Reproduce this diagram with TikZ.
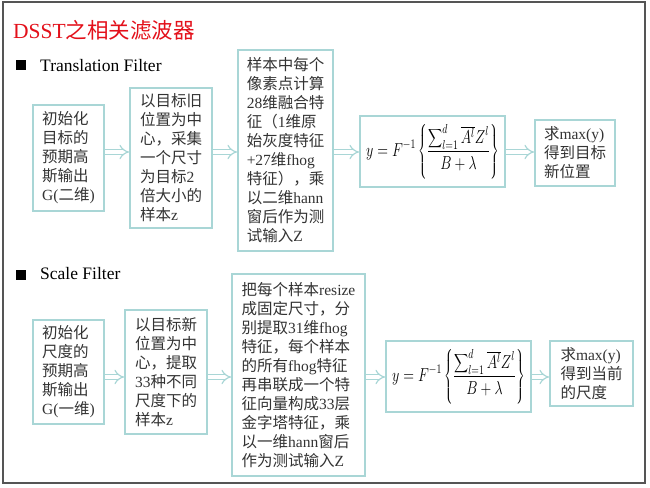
\documentclass[tikz,border=0pt]{standalone}
\usepackage{graphicx}
\usepackage{fontspec}
\setmainfont{Liberation Serif}
\newfontfamily\cjk{Noto Sans CJK SC}
\usetikzlibrary{arrows.meta}
% Chinese characters go to the CJK family, the rest stays in the serif
\XeTeXinterchartokenstate=1
\newXeTeXintercharclass\cjkclass
\newcount\cjkchar
\newcommand\setcjkrange[2]{%
  \cjkchar=#1\relax
  \loop
    \XeTeXcharclass\cjkchar=\cjkclass
    \ifnum\cjkchar<#2\relax\advance\cjkchar by 1\relax
  \repeat}
\setcjkrange{"3000}{"303F}
\setcjkrange{"4E00}{"9FFF}
\setcjkrange{"FF00}{"FFEF}
\XeTeXinterchartoks 0 \cjkclass = {\cjk}
\XeTeXinterchartoks 4095 \cjkclass = {\cjk}
\XeTeXinterchartoks \cjkclass 0 = {\rmfamily}
\XeTeXinterchartoks 4095 0 = {\rmfamily}
\definecolor{boxteal}{HTML}{A9D6D6}
\definecolor{txtgray}{HTML}{333333}
\definecolor{titlered}{HTML}{E3101A}
\definecolor{framegray}{HTML}{555555}
\newcommand\boxtxt{\fontsize{15.5}{19}\selectfont}
\newcommand\dsstformula{\scalebox{0.98}[1.3]{$\displaystyle y=F^{-1}\left\{\frac{\displaystyle\sum\nolimits_{l=1}^{d}\overline{A^{l}}Z^{l}}{B+\lambda}\right\}$}}
\tikzset{
  frame/.style={draw=framegray, line width=1.5pt},
  title/.style={anchor=base west, inner sep=0pt, text=titlered,
                font=\fontsize{21.5}{24}\selectfont},
  sect/.style={anchor=base west, inner sep=0pt, text=black,
               font=\fontsize{17.5}{20}\selectfont},
  sqmark/.style={fill=black, minimum size=10pt, inner sep=0pt},
  box/.style={draw=boxteal, line width=1.8pt, fill=white, text=txtgray,
              align=left, inner sep=3pt, font=\boxtxt},
  formula/.style={draw=boxteal, line width=1.8pt, fill=white, text=black,
                  minimum width=145pt, minimum height=71pt, inner sep=1pt,
                  font=\fontsize{14.4}{17}\selectfont},
  flow/.style={draw=boxteal, line width=1.2pt, double=white,
               double distance=3.8pt, -{Implies[scale=1.3]}},
}
\begin{document}
\begin{tikzpicture}[x=1pt, y=-1pt]
  \useasboundingbox (0,0) rectangle (650,487);
  \draw[frame] (3,2) rectangle (645,483);
  \node[title] (head) at (13,38) {DSST之相关滤波器};

  % Translation Filter
  \node[sqmark] (m1) at (20.5,65) {};
  \node[sect] (sec1) at (40,71) {Translation Filter};
  \coordinate (ytop) at (0,152);
  \node[box, minimum width=71pt, minimum height=106pt] (t1) at (68.5,158)
       {初始化\\目标的\\预期高\\斯输出\\G(二维)};
  \node[box, minimum width=82pt, minimum height=140pt] (t2) at (171,158)
       {以目标旧\\位置为中\\心，采集\\一个尺寸\\为目标2\\倍大小的\\样本z};
  \node[box, minimum width=95pt, minimum height=201pt] (t3) at (285.5,150.5)
       {样本中每个\\像素点计算\\28维融合特\\征（1维原\\始灰度特征\\+27维fhog\\特征），乘\\以二维hann\\窗后作为测\\试输入Z};
  \node[formula] (t4) at (432.5,151.5) {\dsstformula};
  \node[box, minimum width=80pt, minimum height=66pt] (t5) at (575,153)
       {求max(y)\\得到目标\\新位置};
  \foreach \a/\b in {t1/t2, t2/t3, t3/t4, t4/t5}
    \draw[flow] (\a.east |- ytop) -- (\b.west |- ytop);

  % Scale Filter
  \node[sqmark] (m2) at (20.5,274.5) {};
  \node[sect] (sec2) at (40,279) {Scale Filter};
  \coordinate (ybot) at (0,377);
  \node[box, minimum width=71pt, minimum height=104pt] (s1) at (68.5,372)
       {初始化\\尺度的\\预期高\\斯输出\\G(一维)};
  \node[box, minimum width=82pt, minimum height=124pt] (s2) at (166,372)
       {以目标新\\位置为中\\心，提取\\33种不同\\尺度下的\\样本z};
  \node[box, minimum width=133pt, minimum height=202pt] (s3) at (298.5,375)
       {把每个样本resize\\成固定尺寸，分\\别提取31维fhog\\特征，每个样本\\的所有fhog特征\\再串联成一个特\\征向量构成33层\\金字塔特征，乘\\以一维hann窗后\\作为测试输入Z};
  \node[formula] (s4) at (458.5,376.5) {\dsstformula};
  \node[box, minimum width=83pt, minimum height=65pt] (s5) at (591.5,373.5)
       {求max(y)\\得到当前\\的尺度};
  \foreach \a/\b in {s1/s2, s2/s3, s3/s4, s4/s5}
    \draw[flow] (\a.east |- ybot) -- (\b.west |- ybot);
\end{tikzpicture}
\end{document}
